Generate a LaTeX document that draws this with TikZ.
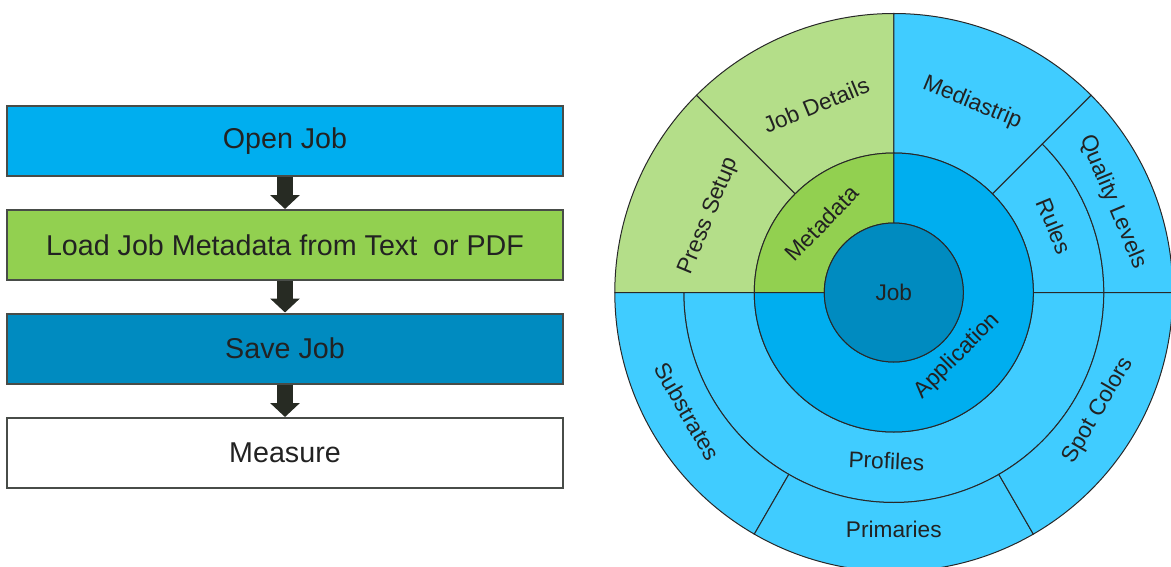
\documentclass[tikz,border=0pt]{standalone}
\usepackage{fontspec}
\setmainfont{Liberation Sans}
\usetikzlibrary{arrows.meta}

\definecolor{openblue}{HTML}{00AEEF}
\definecolor{loadgreen}{HTML}{92D050}
\definecolor{saveblue}{HTML}{008BC0}
\definecolor{lightblue}{HTML}{40CCFF}
\definecolor{lightgreen}{HTML}{B4DE89}
\definecolor{txtdark}{HTML}{222222}
\definecolor{arrowdark}{HTML}{272B23}
\definecolor{boxline}{HTML}{484C48}

\begin{document}
\begin{tikzpicture}[x=0.75pt,y=0.75pt,yscale=-1,xscale=1,
  stepbox/.style={draw=boxline, line width=1.5pt, minimum width=417pt, minimum height=52.5pt, inner sep=0pt, text=txtdark, font=\fontsize{21.5}{26}\selectfont},
  flowarrow/.style={draw=arrowdark, line width=12pt, -{Triangle[width=21.75pt,length=10.5pt]}},
  seg/.style={draw={rgb, 255:red, 40; green, 40; blue, 40}, line width=0.75pt},
  seglabel/.style={text=txtdark, font=\fontsize{17}{20}\selectfont, inner sep=0pt}]
\useasboundingbox (0,0) rectangle (1171,567);

%Shape: Rectangle
\draw (285,141) node [stepbox, fill=openblue] (openjob) {Open Job};
%Shape: Rectangle
\draw (285,245) node [stepbox, fill=loadgreen] (loadmeta) {Load Job Metadata from Text\ \ or PDF};
%Shape: Rectangle
\draw (285,348.5) node [stepbox, fill=saveblue] (savejob) {Save Job};
%Shape: Rectangle
\draw (285,453) node [stepbox, fill=white] (measure) {Measure};

%Straight Lines
\draw [flowarrow] (openjob) -- (loadmeta);
\draw [flowarrow] (loadmeta) -- (savejob);
\draw [flowarrow] (savejob) -- (measure);

\begin{scope}[shift={(893.8,292.5)}, yscale=-1]
%Shape: Arc
\draw [seg, fill=lightgreen] (135:139.5) -- (135:279) arc [start angle=135, end angle=180, radius=279] -- (180:139.5) arc [start angle=180, end angle=135, radius=139.5] -- cycle;
\draw [seg, fill=lightgreen] (90:139.5) -- (90:279) arc [start angle=90, end angle=135, radius=279] -- (135:139.5) arc [start angle=135, end angle=90, radius=139.5] -- cycle;
\draw [seg, fill=lightblue] (45:139.5) -- (45:279) arc [start angle=45, end angle=90, radius=279] -- (90:139.5) arc [start angle=90, end angle=45, radius=139.5] -- cycle;
\draw [seg, fill=lightblue] (0:139.5) -- (0:210) arc [start angle=0, end angle=45, radius=210] -- (45:139.5) arc [start angle=45, end angle=0, radius=139.5] -- cycle;
\draw [seg, fill=lightblue] (0:210) -- (0:279) arc [start angle=0, end angle=45, radius=279] -- (45:210) arc [start angle=45, end angle=0, radius=210] -- cycle;
\draw [seg, fill=lightblue] (180:139.5) -- (180:210) arc [start angle=180, end angle=360, radius=210] -- (0:139.5) arc [start angle=360, end angle=180, radius=139.5] -- cycle;
\draw [seg, fill=lightblue] (180:210) -- (180:279) arc [start angle=180, end angle=240, radius=279] -- (240:210) arc [start angle=240, end angle=180, radius=210] -- cycle;
\draw [seg, fill=lightblue] (240:210) -- (240:279) arc [start angle=240, end angle=300, radius=279] -- (300:210) arc [start angle=300, end angle=240, radius=210] -- cycle;
\draw [seg, fill=lightblue] (300:210) -- (300:279) arc [start angle=300, end angle=360, radius=279] -- (0:210) arc [start angle=360, end angle=300, radius=210] -- cycle;
%Shape: Arc
\draw [seg, fill=loadgreen] (90:69.5) -- (90:139.5) arc [start angle=90, end angle=180, radius=139.5] -- (180:69.5) arc [start angle=180, end angle=90, radius=69.5] -- cycle;
\draw [seg, fill=openblue] (180:69.5) -- (180:139.5) arc [start angle=180, end angle=450, radius=139.5] -- (90:69.5) arc [start angle=450, end angle=180, radius=69.5] -- cycle;
%Shape: Circle
\draw [seg, fill=saveblue] (0,0) circle [radius=69.5];

% Text Node
\node [seglabel] (jobtxt) at (0,0) {Job};
% Text Node
\node [seglabel, rotate=46] (metadata) at (136:100) {Metadata};
% Text Node
\node [seglabel, rotate=45] (application) at (315:90) {Application};
% Text Node
\node [seglabel, rotate=67.5] (presssetup) at (157.5:200) {Press Setup};
% Text Node
\node [seglabel, rotate=22.5] (jobdetails) at (112.5:203) {Job Details};
% Text Node
\node [seglabel, rotate=-22.5] (mediastrip) at (67.5:205) {Mediastrip};
% Text Node
\node [seglabel, rotate=-67.5] (rules) at (22.5:174) {Rules};
% Text Node
\node [seglabel, rotate=-67.5] (qualitylevels) at (22.5:237) {Quality Levels};
% Text Node
\node [seglabel, rotate=-2.5] (profiles) at (267.5:168.5) {Profiles};
% Text Node
\node [seglabel, rotate=-60] (substrates) at (210:238.5) {Substrates};
% Text Node
\node [seglabel] (primaries) at (270:236.5) {Primaries};
% Text Node
\node [seglabel, rotate=60] (spotcolors) at (330:236) {Spot Colors};
\end{scope}

\end{tikzpicture}
\end{document}
